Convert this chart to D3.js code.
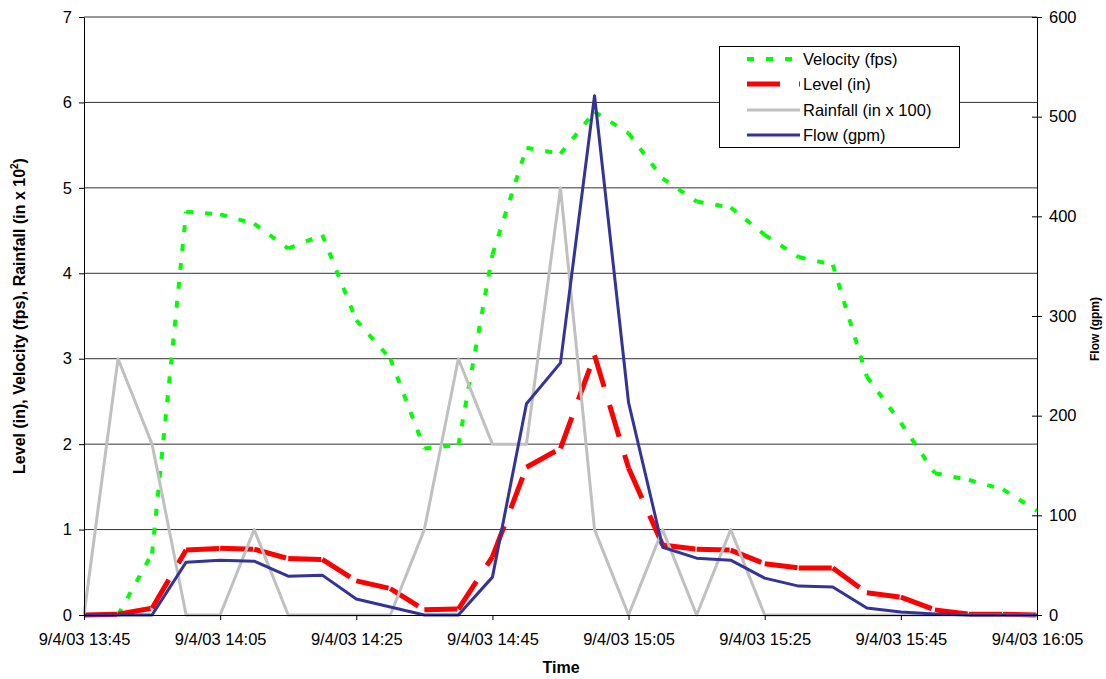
<!DOCTYPE html>
<html><head><meta charset="utf-8">
<script src="https://cdn.jsdelivr.net/npm/d3@7"></script>
<style>
body{margin:0;background:#fff}
svg{display:block}
text{font-family:"Liberation Sans",Arial,sans-serif;fill:#000}
</style>
</head><body>
<svg id="c" width="1106" height="679"></svg>
<script>
const day = "2003-09-04";
const times = ["13:45","13:50","13:55","14:00","14:05","14:10","14:15","14:20","14:25","14:30",
  "14:35","14:40","14:45","14:50","14:55","15:00","15:05","15:10","15:15","15:20",
  "15:25","15:30","15:35","15:40","15:45","15:50","15:55","16:00","16:05"];
const velocity = [0,0,0.72,4.72,4.69,4.58,4.29,4.45,3.45,3.0,1.95,1.99,4.22,5.47,5.40,5.89,5.64,5.11,4.84,4.77,4.45,4.19,4.10,2.79,2.25,1.66,1.58,1.47,1.22];
const level = [0,0.01,0.08,0.76,0.78,0.77,0.66,0.65,0.40,0.31,0.06,0.07,0.68,1.73,1.95,3.04,1.72,0.82,0.77,0.76,0.60,0.55,0.55,0.26,0.21,0.06,0.01,0.01,0.0];
const rainfall = [0,3,2,0,0,1,0,0,0,0,1,3,2,2,5,1,0,1,0,1,0,0,0,0,0,0,0,0,0];
const flow = [0,0,0,53,55,54,39,40,16,8,0,0,38,212,253,521,213,68,57,55,37,29,28,7,3,1,0,0,0];
const tickTimes = ["13:45","14:05","14:25","14:45","15:05","15:25","15:45","16:05"];
const leftTicks = [0,1,2,3,4,5,6,7];
const rightTicks = [0,100,200,300,400,500,600];
const seriesNames = ["Velocity (fps)","Level (in)","Rainfall (in x 100)","Flow (gpm)"];

const svg = d3.select("#c");
const m = {l:84, r:1037, t:17, b:615};
const parse = d3.timeParse("%Y-%m-%d %H:%M");
const T = times.map(t => parse(day + " " + t));
const fmt = d3.timeFormat("%-m/%-d/%y %H:%M");

const x = d3.scaleTime().domain([T[0], T[T.length-1]]).range([m.l, m.r]);
const y = d3.scaleLinear().domain([0,7]).range([m.b, m.t]);
const y2 = d3.scaleLinear().domain([0,600]).range([m.b, m.t]);

// gridlines
svg.append("g").selectAll("line").data(leftTicks.filter(v => v > 0)).join("line")
  .attr("x1", m.l).attr("x2", m.r)
  .attr("y1", d => y(d)).attr("y2", d => y(d))
  .attr("stroke", "#333").attr("stroke-width", 1);

function segLines(vals, sc, color, width, dash) {
  const g = svg.append("g");
  const line = d3.line().x(d => x(d[0])).y(d => sc(d[1]));
  const pts = T.map((t,i) => [t, vals[i]]);
  d3.pairs(pts).forEach(p => {
    g.append("path").attr("d", line(p))
      .attr("fill","none").attr("stroke", color).attr("stroke-width", width)
      .attr("stroke-dasharray", dash).attr("stroke-linecap","butt");
  });
}
function solidLine(vals, sc, color, width) {
  const line = d3.line().x((d,i) => x(T[i])).y(d => sc(d));
  svg.append("path").datum(vals).attr("d", line)
    .attr("fill","none").attr("stroke", color).attr("stroke-width", width)
    .attr("stroke-linejoin","round");
}

const styles = [
  {c:"#00ff00", w:4, dash:"7,12"},
  {c:"#ff0000", w:5, dash:"33,19"},
  {c:"#c0c0c0", w:3, dash:null},
  {c:"#333399", w:3, dash:null}
];

segLines(velocity, y, styles[0].c, styles[0].w, styles[0].dash);
segLines(level, y, styles[1].c, styles[1].w, styles[1].dash);
solidLine(rainfall, y, styles[2].c, styles[2].w);
solidLine(flow, y2, styles[3].c, styles[3].w);

// axes
const axL = svg.append("g").attr("transform", `translate(${m.l},0)`)
  .call(d3.axisLeft(y).tickValues(leftTicks).tickSizeInner(5).tickSizeOuter(0).tickPadding(7).tickFormat(d3.format("d")));
const axR = svg.append("g").attr("transform", `translate(${m.r},0)`)
  .call(d3.axisRight(y2).tickValues(rightTicks).tickSizeInner(5).tickSizeOuter(0).tickPadding(7).tickFormat(d3.format("d")));
axR.selectAll(".tick line").attr("x1", -5).attr("x2", 5);
const axB = svg.append("g").attr("transform", `translate(0,${m.b})`)
  .call(d3.axisBottom(x).tickValues(tickTimes.map(t => parse(day + " " + t))).tickSizeInner(5).tickSizeOuter(0).tickFormat(fmt));
axB.selectAll(".tick text").attr("dy", null).attr("y", 30);
[axL, axR, axB].forEach(a => {
  a.selectAll("text").attr("font-size", 16.5).attr("font-family", '"Liberation Sans",Arial,sans-serif').attr("fill", "#000");
  a.selectAll("line, path").attr("stroke", "#000");
});

// titles
svg.append("text").attr("x", 561).attr("y", 673).attr("text-anchor","middle")
  .attr("font-size", 16).attr("font-weight","bold").text("Time");
const yt = svg.append("text").attr("transform","translate(25,316) rotate(-90)")
  .attr("text-anchor","middle").attr("font-size", 16).attr("font-weight","bold");
yt.append("tspan").text("Level (in), Velocity (fps), Rainfall (in x 10");
yt.append("tspan").attr("font-size", 10).attr("dy", -7).text("2");
yt.append("tspan").attr("dy", 7).text(")");
svg.append("text").attr("transform","translate(1099,329) rotate(-90)")
  .attr("text-anchor","middle").attr("font-size", 12).attr("font-weight","bold").text("Flow (gpm)");

// legend
const lg = svg.append("g");
lg.append("rect").attr("x", 719.5).attr("y", 46.5).attr("width", 240).attr("height", 101)
  .attr("fill","#fff").attr("stroke","#000").attr("stroke-width",1);
const rowY = [59, 84, 110, 135];
seriesNames.forEach((name, i) => {
  const s = styles[i];
  lg.append("line").attr("x1", 747).attr("x2", 800).attr("y1", rowY[i]).attr("y2", rowY[i])
    .attr("stroke", s.c).attr("stroke-width", s.w).attr("stroke-dasharray", s.dash);
  lg.append("text").attr("x", 803).attr("y", rowY[i] + 6).attr("font-size", 16.5).text(name);
});
</script>
</body></html>
